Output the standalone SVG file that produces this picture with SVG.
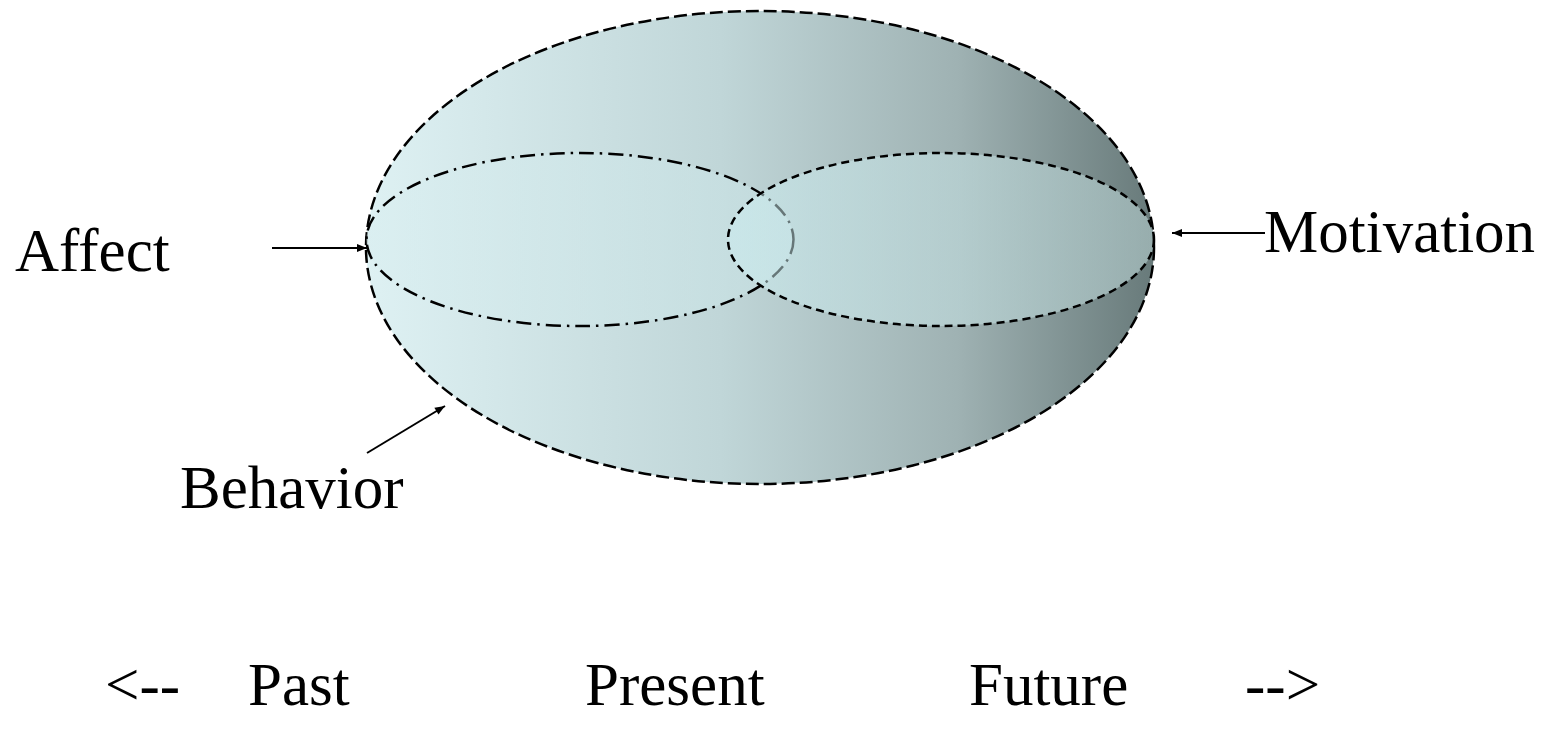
<svg xmlns="http://www.w3.org/2000/svg" width="1550" height="732" viewBox="0 0 1550 732">
<defs>
<linearGradient id="gOuter" x1="0" y1="0" x2="1" y2="0">
<stop offset="0" stop-color="#def1f3"/>
<stop offset="0.45" stop-color="#c0d6d8"/>
<stop offset="0.75" stop-color="#9fb2b3"/>
<stop offset="1" stop-color="#687a7a"/>
</linearGradient>
<linearGradient id="gLeft" x1="0" y1="0" x2="1" y2="0">
<stop offset="0" stop-color="#d9eef0"/>
<stop offset="1" stop-color="#c8e2e4"/>
</linearGradient>
<linearGradient id="gRight" x1="0" y1="0" x2="1" y2="0">
<stop offset="0" stop-color="#cdeef1"/>
<stop offset="1" stop-color="#c6e0e0"/>
</linearGradient>
<marker id="ah" viewBox="0 0 10 10" refX="10" refY="5" markerWidth="11" markerHeight="10" markerUnits="userSpaceOnUse" orient="auto">
<path d="M0,1 L10,5 L0,9 Z" fill="#000"/>
</marker>
<style>
.lbl{font-family:"Liberation Serif","Times New Roman",serif;font-size:61px;fill:#000}
.conn{stroke:#000;stroke-width:2;fill:none;marker-end:url(#ah)}
</style>
</defs>
<g id="behavior">
<ellipse cx="760" cy="247.5" rx="394" ry="236.5" fill="url(#gOuter)" stroke="#000" stroke-width="2.5" stroke-dasharray="13,5"/>
</g>
<g id="affect">
<ellipse cx="580" cy="239.5" rx="213.5" ry="86.5" fill="url(#gLeft)" fill-opacity="0.6" stroke="#000" stroke-width="2.5" stroke-dasharray="15,6,2.5,6"/>
</g>
<g id="motivation">
<ellipse cx="941" cy="239.5" rx="213" ry="86.5" fill="url(#gRight)" fill-opacity="0.5" stroke="none"/>
<ellipse cx="941" cy="239.5" rx="213" ry="86.5" fill="none" stroke="#000" stroke-width="2.5" stroke-dasharray="8,5"/>
</g>
<g id="connectors">
<line class="conn" x1="272" y1="248" x2="367" y2="248"/>
<line class="conn" x1="1265" y1="233" x2="1172" y2="233"/>
<line class="conn" x1="367" y1="453" x2="445" y2="406"/>
</g>
<g id="labels">
<text class="lbl" x="15" y="271">Affect</text>
<text class="lbl" x="1264" y="252">Motivation</text>
<text class="lbl" x="180" y="508">Behavior</text>
<text class="lbl" x="105" y="705">&lt;--</text>
<text class="lbl" x="248" y="705">Past</text>
<text class="lbl" x="585" y="705">Present</text>
<text class="lbl" x="969" y="705">Future</text>
<text class="lbl" x="1245" y="705">--&gt;</text>
</g>
</svg>
